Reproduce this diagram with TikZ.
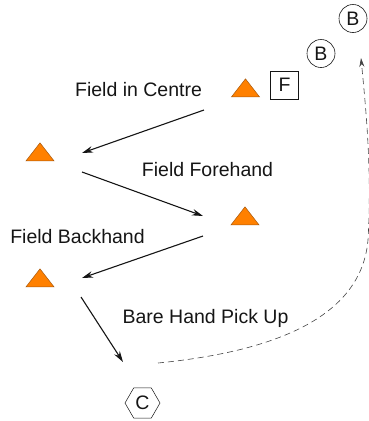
\documentclass[tikz,border=0pt]{standalone}
\usepackage{fontspec}
\setmainfont{Liberation Sans}
\usetikzlibrary{arrows.meta, shapes.geometric}

\definecolor{cone}{HTML}{FF8000}
\definecolor{coneedge}{HTML}{A85A10}
\definecolor{ink}{HTML}{151515}

\begin{document}
\begin{tikzpicture}[x=1pt, y=-1pt,
  every node/.style={font=\fontsize{19.5}{22}\selectfont, text=ink},
  cone/.style={isosceles triangle, isosceles triangle stretches, shape border rotate=90,
               minimum width=28pt, minimum height=18pt, inner sep=0pt,
               fill=cone, draw=coneedge, line width=0.5pt},
  fielder/.style={draw=ink, line width=0.6pt, minimum size=28pt, inner sep=0pt},
  base/.style={circle, draw=ink, line width=0.6pt, minimum size=28pt, inner sep=0pt},
  catcher/.style={regular polygon, regular polygon sides=6,
                  draw=ink, line width=0.5pt, minimum size=35pt, inner sep=0pt},
  label/.style={anchor=base},
  throw/.style={-{Stealth[length=11pt, width=6.5pt]}, line width=1.1pt, draw=ink},
  run/.style={-{Stealth[length=9pt, width=5pt]}, dashed, dash pattern=on 6pt off 4pt,
              line width=0.6pt, draw=ink!80}
]
  \useasboundingbox (0,0) rectangle (369,421);

  %--- cones and players
  \node[cone] (c1) at (245.5, 90) {};
  \node[cone] (c2) at (40, 154) {};
  \node[cone] (c3) at (245, 218) {};
  \node[cone] (c4) at (40, 280) {};

  \node[fielder] (F) at (284.5, 85) {F};
  \node[base] (b1) at (321, 53.5) {B};
  \node[base] (b2) at (353, 18.5) {B};
  \node[catcher] (C) at (142.5, 403) {C};

  %--- labels
  \node[label] (lc) at (138.5, 96) {Field in Centre};
  \node[label] (lf) at (207.5, 176) {Field Forehand};
  \node[label] (lb) at (77.5, 243) {Field Backhand};
  \node[label] (lp) at (205.5, 323) {Bare Hand Pick Up};

  %--- ends of the throws
  \coordinate (t1s) at (204, 110);
  \coordinate (t1e) at (82, 153);
  \coordinate (t2s) at (82, 172);
  \coordinate (t2e) at (203, 216);
  \coordinate (t3s) at (203, 236);
  \coordinate (t3e) at (82, 278);
  \coordinate (t4s) at (81, 297);
  \coordinate (t4e) at (123, 362);
  \coordinate (r1s) at (158, 363);
  \coordinate (r1m) at (368, 240);
  \coordinate (r1e) at (361, 58);

  \draw[throw] (t1s) -- (t1e);
  \draw[throw] (t2s) -- (t2e);
  \draw[throw] (t3s) -- (t3e);
  \draw[throw] (t4s) -- (t4e);

  % run back to base
  \draw[run] (r1s) .. controls (290, 350) and (362, 310) .. (r1m)
                   .. controls (372, 170) and (366, 110) .. (r1e);

\end{tikzpicture}
\end{document}
